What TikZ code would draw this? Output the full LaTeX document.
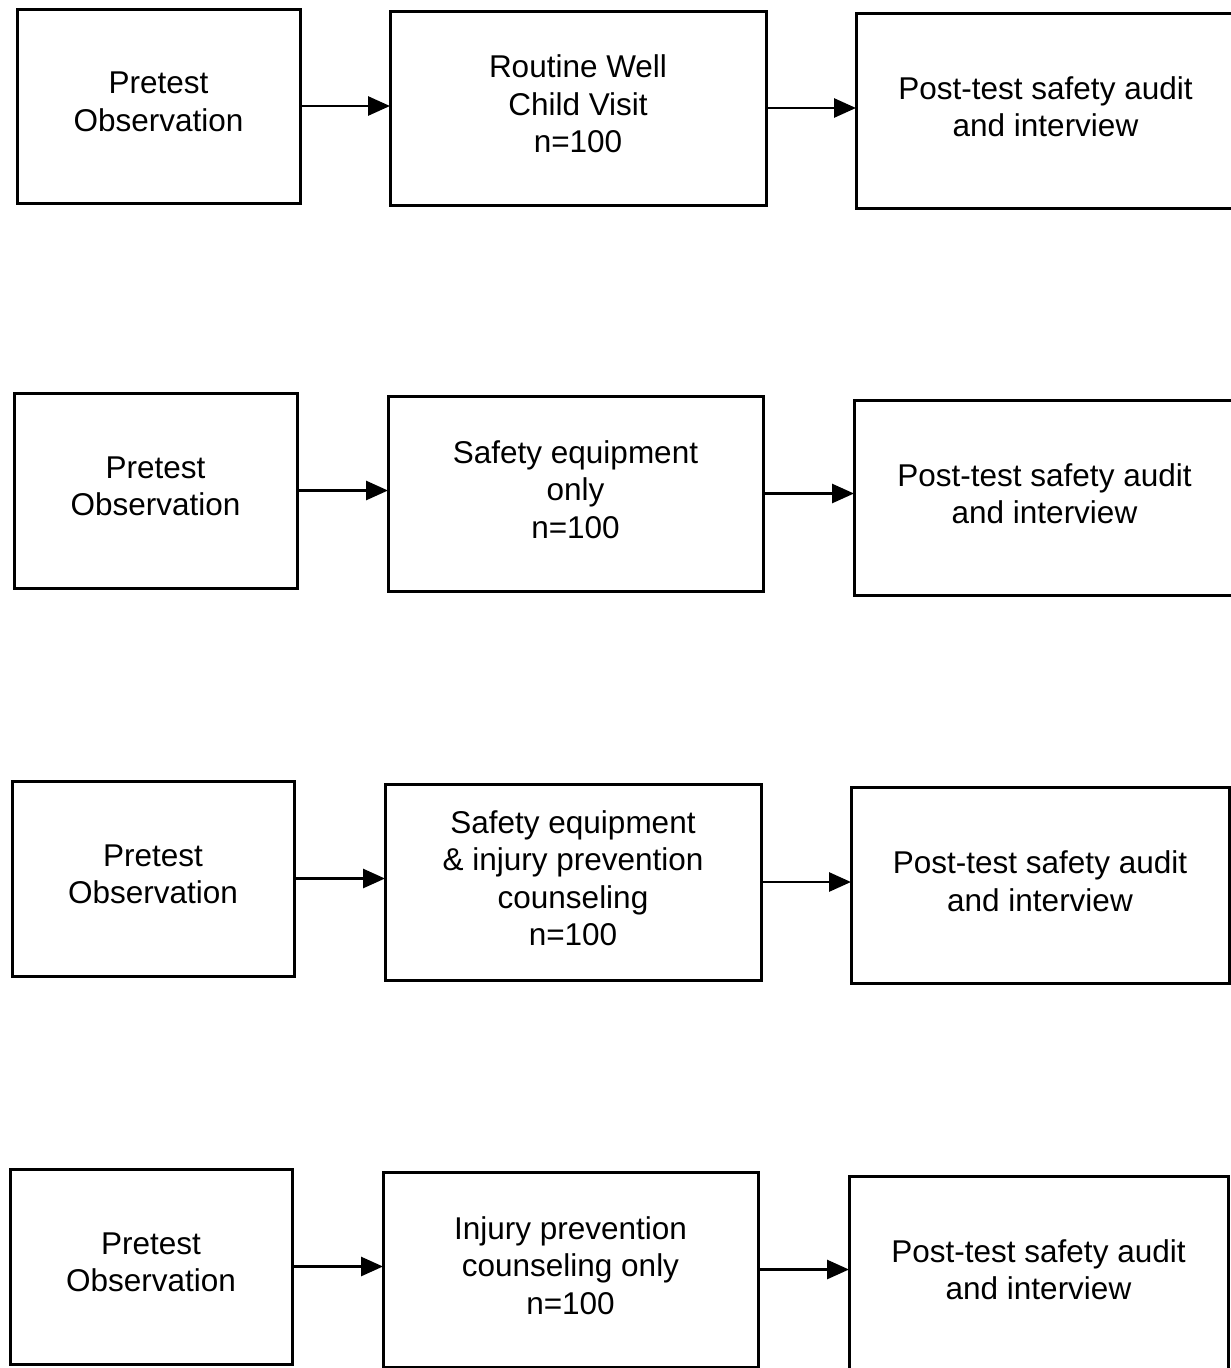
\documentclass[tikz,border=0pt]{standalone}
\usepackage{fontspec}
\setmainfont{Liberation Sans}
\usetikzlibrary{arrows.meta}
\tikzset{
  flowbox/.style={draw=black, line width=3pt, inner sep=0pt, outer sep=0pt,
    align=center, font=\fontsize{31.5}{37.5}\selectfont},
  flowarrow/.style={line width=2.8pt, -{Triangle[length=22pt,width=19pt]}}
}
\newcommand{\mybox}[6]{%
  \node[flowbox, minimum width=#4pt-#2pt, minimum height=#5pt-#3pt]
    (#1) at ({(#2+#4)/2},{-(#3+#5)/2}) {};
  \node[align=center, inner sep=0pt, font=\fontsize{31.5}{37.5}\selectfont]
    (#1t) at ([yshift=4pt]#1.center) {#6};}
\begin{document}
\begin{tikzpicture}[x=1pt,y=1pt]
\useasboundingbox (0,0) rectangle (1231,-1368);
\fill[white] (0,0) rectangle (1231,-1368);
% Row 1
\mybox{a1}{17}{9}{300}{203}{Pretest\\Observation}
\mybox{b1}{390}{11}{766}{205}{Routine Well\\Child Visit\\n=100}
\mybox{c1}{856}{13}{1235}{208}{Post-test safety audit\\and interview}
% Row 2
\mybox{a2}{14}{393}{297}{588}{Pretest\\Observation}
\mybox{b2}{388}{396}{763}{591}{Safety equipment\\only\\n=100}
\mybox{c2}{854}{400}{1235}{595}{Post-test safety audit\\and interview}
% Row 3
\mybox{a3}{12}{781}{294}{976}{Pretest\\Observation}
\mybox{b3}{385}{784}{761}{980}{Safety equipment\\\& injury prevention\\counseling\\n=100}
\mybox{c3}{851}{787}{1229}{983}{Post-test safety audit\\and interview}
% Row 4
\mybox{a4}{10}{1169}{292}{1364}{Pretest\\Observation}
\mybox{b4}{383}{1172}{758}{1367}{Injury prevention\\counseling only\\n=100}
\mybox{c4}{849}{1176}{1228}{1371}{Post-test safety audit\\and interview}
% Arrows
\foreach \r in {1,2,3,4}{
  \draw[flowarrow] (a\r.east) -- (a\r.east -| b\r.west);
  \draw[flowarrow] (b\r.east) -- (b\r.east -| c\r.west);
}
\end{tikzpicture}
\end{document}
